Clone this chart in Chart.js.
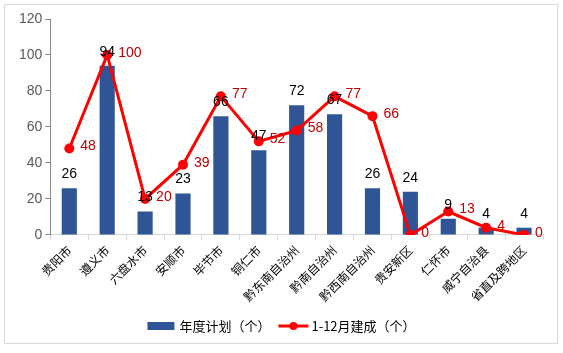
<!DOCTYPE html>
<html lang="zh">
<head>
    <meta charset="UTF-8">
    <title>年度计划与1-12月建成</title>
    <script src="https://cdn.jsdelivr.net/npm/chart.js"></script>
    <style>
        body { margin: 0; background: #fff; }
        .chartBox { position: relative; width: 563px; height: 353px; }
        .frame {
            position: absolute; left: 4px; top: 4px;
            width: 552px; height: 338px;
            border: 1px solid #d9d9d9;
            pointer-events: none;
        }
    </style>
</head>
<body>
    <div class="chartBox">
        <canvas id="planChart" width="563" height="353"></canvas>
        <div class="frame"></div>
    </div>
    <script>
        // chart data
        const regions = ['贵阳市', '遵义市', '六盘水市', '安顺市', '毕节市', '铜仁市', '黔东南自治州',
                         '黔南自治州', '黔西南自治州', '贵安新区', '仁怀市', '威宁自治县', '省直及跨地区'];
        const planned = [26, 94, 13, 23, 66, 47, 72, 67, 26, 24, 9, 4, 4];
        const built = [48, 100, 20, 39, 77, 52, 58, 77, 66, 0, 13, 4, 0];
        const yTicks = [0, 20, 40, 60, 80, 100, 120];

        const cjk = '"Noto Sans CJK SC", "Liberation Sans", sans-serif';
        const num = '"Liberation Sans", Arial, sans-serif';

        // draws the value labels and the legend
        const labelsPlugin = {
            id: 'valueLabels',
            afterDatasetsDraw(chart) {
                const ctx = chart.ctx;
                ctx.save();
                ctx.font = '14px ' + num;

                // bar values above the bars
                ctx.fillStyle = '#000';
                ctx.textAlign = 'center';
                ctx.textBaseline = 'bottom';
                chart.getDatasetMeta(0).data.forEach((bar, i) => {
                    ctx.fillText(planned[i], bar.x, bar.y - 7);
                });

                // line values to the right of the points
                ctx.fillStyle = '#c00000';
                ctx.textAlign = 'left';
                ctx.textBaseline = 'middle';
                chart.getDatasetMeta(1).data.forEach((pt, i) => {
                    ctx.fillText(built[i], pt.x + 11, pt.y - 2);
                });

                // legend
                const names = chart.data.datasets.map(d => d.label);
                ctx.font = '13px ' + cjk;
                ctx.textBaseline = 'middle';
                const w0 = ctx.measureText(names[0]).width;
                const w1 = ctx.measureText(names[1]).width;
                const total = 27 + 5 + w0 + 8 + 30 + 3 + w1;
                let x = (chart.width - total) / 2;
                const y = 326;
                ctx.fillStyle = '#2f5597';
                ctx.fillRect(x, y - 4, 27, 8);
                x += 32;
                ctx.fillStyle = '#000';
                ctx.fillText(names[0], x, y);
                x += w0 + 8;
                ctx.strokeStyle = '#ff0000';
                ctx.lineWidth = 3;
                ctx.beginPath();
                ctx.moveTo(x, y);
                ctx.lineTo(x + 30, y);
                ctx.stroke();
                ctx.fillStyle = '#ff0000';
                ctx.beginPath();
                ctx.arc(x + 15, y, 4, 0, Math.PI * 2);
                ctx.fill();
                x += 33;
                ctx.fillStyle = '#000';
                ctx.fillText(names[1], x, y);
                ctx.restore();
            }
        };

        const ctx = document.getElementById('planChart').getContext('2d');
        new Chart(ctx, {
            data: {
                labels: regions,
                datasets: [{
                    type: 'bar',
                    label: '年度计划（个）',
                    data: planned,
                    backgroundColor: '#2f5597',
                    barPercentage: 0.4,
                    categoryPercentage: 1,
                    order: 2
                }, {
                    type: 'line',
                    label: '1-12月建成（个）',
                    data: built,
                    borderColor: '#ff0000',
                    backgroundColor: '#ff0000',
                    borderWidth: 3,
                    pointRadius: 5,
                    pointBorderWidth: 0,
                    tension: 0,
                    order: 1
                }]
            },
            options: {
                responsive: false,
                animation: false,
                layout: { padding: { left: 16, right: 20, top: 19, bottom: 46 } },
                plugins: {
                    legend: { display: false },
                    tooltip: { enabled: false }
                },
                scales: {
                    x: {
                        grid: { drawOnChartArea: false, color: '#d9d9d9', tickLength: 5 },
                        border: { color: '#d9d9d9' },
                        ticks: {
                            autoSkip: false,
                            maxRotation: 45,
                            minRotation: 45,
                            color: '#000',
                            font: { size: 12, family: cjk }
                        }
                    },
                    y: {
                        min: 0,
                        max: 120,
                        afterBuildTicks: (scale) => { scale.ticks = yTicks.map(v => ({ value: v })); },
                        grid: { drawOnChartArea: false, color: '#868686', tickLength: 5 },
                        border: { color: '#868686' },
                        ticks: {
                            color: '#595959',
                            padding: 3,
                            font: { size: 14, family: num }
                        }
                    }
                }
            },
            plugins: [labelsPlugin]
        });
    </script>
</body>
</html>
